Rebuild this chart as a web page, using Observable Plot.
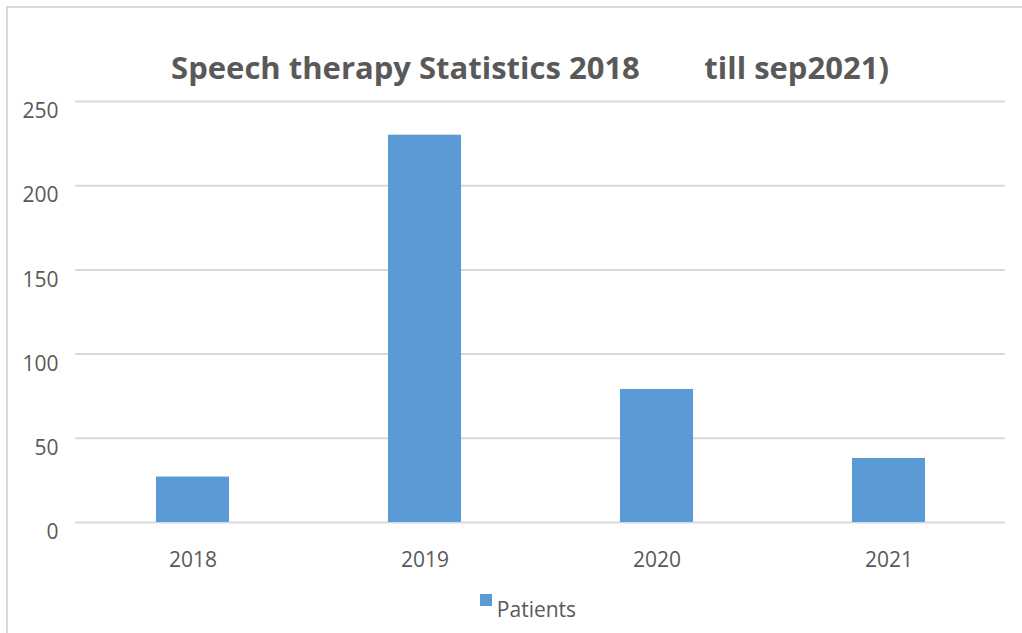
<!DOCTYPE html>
<html>
<head>
<meta charset="utf-8">
<script src="https://cdn.jsdelivr.net/npm/d3@7"></script>
<script src="https://cdn.jsdelivr.net/npm/@observablehq/plot@0.6"></script>
<style>
  html, body { margin: 0; padding: 0; background: #fff; }
  #wrap { position: relative; width: 1022px; height: 633px; overflow: hidden; font-family: "Open Sans", sans-serif; color: #595959; }
  #frame { position: absolute; left: 6px; top: 6px; width: 1030px; height: 700px; border-left: 2px solid #d9d9d9; border-top: 2px solid #d9d9d9; }
  #title { position: absolute; left: 0; top: 0; width: 1022px; height: 90px; box-sizing: border-box; padding-left: 38px; text-align: center; font-weight: 700; font-size: 31px; line-height: 31px; padding-top: 52px; white-space: pre; color: #595959; }
  #chart { position: absolute; left: 0; top: 90px; }
  #legend { position: absolute; left: 0; top: 588px; width: 1022px; box-sizing: border-box; padding-left: 34px; text-align: center; font-size: 21px; color: #595959; }
  #legend .sw { display: inline-block; width: 12px; height: 12px; background: #5b9bd5; vertical-align: top; margin-top: 6px; margin-right: 5px; }
  #legend .lb { display: inline-block; padding-top: 7px; }
</style>
</head>
<body>
<div id="wrap">
  <div id="frame"></div>
  <div id="title"></div>
  <div id="chart"></div>
  <div id="legend"></div>
</div>
<script>
const titleText = "Speech therapy Statistics 2018        till sep2021)";
const years = ["2018", "2019", "2020", "2021"];
const patients = [27, 230, 79, 38];
const yTicks = [0, 50, 100, 150, 200, 250];
const seriesName = "Patients";
const barColor = "#5b9bd5";

document.getElementById("title").textContent = titleText;

const data = years.map((y, i) => ({year: y, value: patients[i]}));

const chart = Plot.plot({
  width: 1022,
  height: 500,
  marginLeft: 75,
  marginRight: 17,
  marginTop: 11,
  marginBottom: 68,
  style: {fontFamily: "Open Sans, sans-serif", fontSize: "21px", color: "#595959", background: "transparent"},
  x: {domain: years, paddingInner: 0.686, paddingOuter: 0.343, label: null},
  y: {domain: [0, 250], label: null},
  marks: [
    Plot.ruleY(yTicks, {stroke: "#d9d9d9", strokeWidth: 2}),
    Plot.barY(data, {x: "year", y: "value", fill: barColor}),
    Plot.axisY({ticks: yTicks, tickSize: 0, tickPadding: 17, dy: 10, label: null, fill: "#595959", fontSize: 21}),
    Plot.axisX({tickSize: 0, tickPadding: 30, label: null, fill: "#595959", fontSize: 21})
  ]
});
document.getElementById("chart").appendChild(chart);

const lg = document.getElementById("legend");
lg.innerHTML = '<span class="sw"></span><span class="lb"></span>';
lg.querySelector(".lb").textContent = seriesName;
</script>
</body>
</html>
